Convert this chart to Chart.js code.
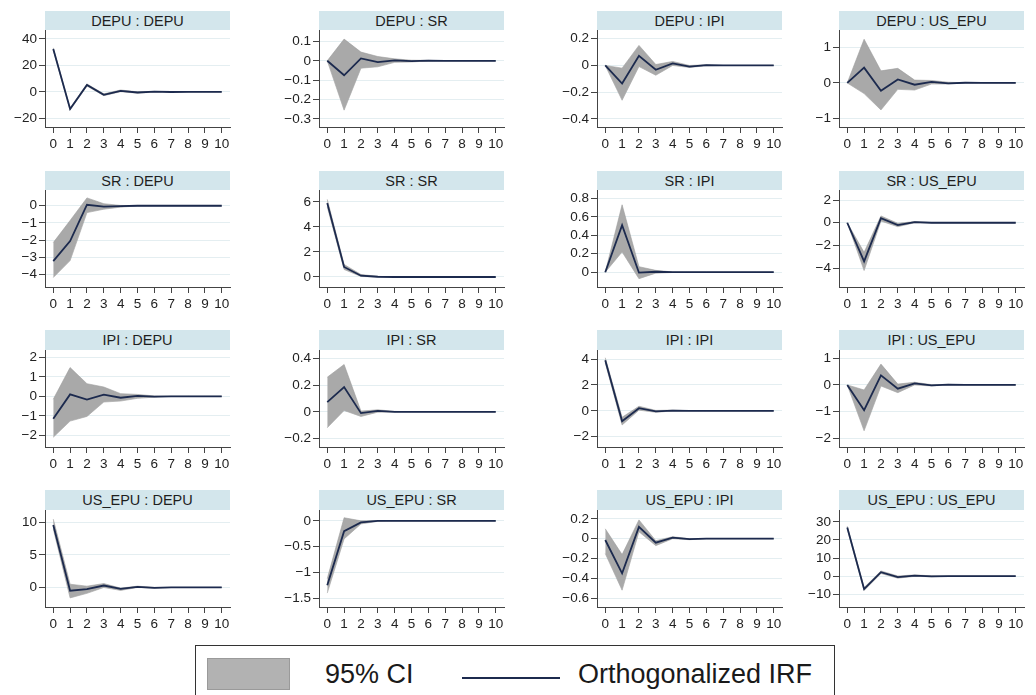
<!DOCTYPE html>
<html>
<head>
<meta charset="utf-8">
<script src="https://cdn.jsdelivr.net/npm/chart.js@4.4.1/dist/chart.umd.min.js"></script>
<style>
  body { margin: 0; background: #fff; width: 1036px; height: 695px; overflow: hidden; position: relative;
         font-family: Arial, "Liberation Sans", sans-serif; }
  .panel { position: absolute; width: 236px; height: 145px; }
  .strip { position: absolute; left: 45px; top: 0; width: 185px; height: 19.5px; background: #d3e6ec;
           color: #1e1e1e; font-size: 14.5px; line-height: 20px; text-align: center; }
  .panel canvas { position: absolute; left: 0; top: 19.5px; }
  .legend { position: absolute; left: 195px; top: 645px; width: 640px; height: 60px; border: 1px solid #333;
            box-sizing: border-box; }
  .legend .sw { position: absolute; left: 11px; top: 12px; width: 83px; height: 32px; background: #b2b2b2;
                border: 1px solid #9a9a9a; box-sizing: border-box; }
  .legend .ln { position: absolute; left: 266px; top: 31px; width: 98px; height: 2px; background: #1c2a4e; }
  .legend span { position: absolute; top: 11px; font-size: 27px; line-height: 34px; color: #1a1a1a; }
</style>
</head>
<body>
<div class="legend">
  <div class="sw"></div><span style="left:129px">95% CI</span>
  <div class="ln"></div><span style="left:382px">Orthogonalized IRF</span>
</div>
<script>
// horizon steps
const steps = [0, 1, 2, 3, 4, 5, 6, 7, 8, 9, 10];

// impulse : response  -> irf, lower / upper 95% CI
const irf_DEPU_DEPU = [32.5, -13, 5.2, -2.2, 0.8, -0.5, 0.1, -0.1, 0, 0, 0];
const lo_DEPU_DEPU  = [31.7, -13.8, 4.4, -2.9, 0.1, -1, -0.2, -0.2, -0.05, -0.02, 0];
const hi_DEPU_DEPU  = [33.3, -12.2, 6, -1.5, 1.4, 0, 0.3, 0.1, 0.05, 0.02, 0];

const irf_DEPU_SR = [0, -0.075, 0.012, -0.007, 0.002, -0.002, 0.001, 0, 0, 0, 0];
const lo_DEPU_SR  = [0, -0.255, -0.038, -0.031, -0.008, -0.006, -0.001, 0, 0, 0, 0];
const hi_DEPU_SR  = [0, 0.112, 0.045, 0.022, 0.01, 0.003, 0.002, 0, 0, 0, 0];

const irf_DEPU_IPI = [0, -0.135, 0.072, -0.032, 0.015, -0.008, 0.002, 0, 0, 0, 0];
const lo_DEPU_IPI  = [0, -0.26, -0.008, -0.073, 0, -0.015, -0.002, 0, 0, 0, 0];
const hi_DEPU_IPI  = [0, -0.02, 0.15, 0.007, 0.03, 0, 0.005, 0, 0, 0, 0];

const irf_DEPU_US_EPU = [0, 0.43, -0.22, 0.1, -0.05, 0.03, -0.01, 0.005, 0, 0, 0];
const lo_DEPU_US_EPU  = [0, -0.3, -0.76, -0.18, -0.2, -0.03, -0.03, 0, 0, 0, 0];
const hi_DEPU_US_EPU  = [0, 1.23, 0.34, 0.41, 0.08, 0.07, 0.02, 0.005, 0, 0, 0];

const irf_SR_DEPU = [-3.23, -2.06, 0.06, -0.05, -0.02, 0, 0, 0, 0, 0, 0];
const lo_SR_DEPU  = [-4.19, -3.2, -0.4, -0.2, -0.08, -0.01, 0, 0, 0, 0, 0];
const hi_SR_DEPU  = [-2.15, -0.86, 0.46, 0.12, 0.02, 0.005, 0, 0, 0, 0, 0];

const irf_SR_SR = [5.9, 0.8, 0.1, 0.02, 0, 0, 0, 0, 0, 0, 0];
const lo_SR_SR  = [5.6, 0.6, 0.04, 0, -0.005, 0, 0, 0, 0, 0, 0];
const hi_SR_SR  = [6.2, 1.0, 0.2, 0.05, 0.01, 0, 0, 0, 0, 0, 0];

const irf_SR_IPI = [0, 0.51, -0.005, 0.005, 0, 0, 0, 0, 0, 0, 0];
const lo_SR_IPI  = [0, 0.22, -0.07, -0.01, -0.003, 0, 0, 0, 0, 0, 0];
const hi_SR_IPI  = [0, 0.73, 0.06, 0.02, 0.003, 0, 0, 0, 0, 0, 0];

const irf_SR_US_EPU = [0, -3.4, 0.4, -0.2, 0.05, 0, 0, 0, 0, 0, 0];
const lo_SR_US_EPU  = [0, -4.2, 0.15, -0.35, 0, -0.01, 0, 0, 0, 0, 0];
const hi_SR_US_EPU  = [0, -2.6, 0.6, -0.05, 0.1, 0.01, 0, 0, 0, 0, 0];

const irf_IPI_DEPU = [-1.15, 0.1, -0.17, 0.09, -0.07, 0.02, -0.01, 0, 0, 0, 0];
const lo_IPI_DEPU  = [-2.1, -1.27, -1.03, -0.29, -0.24, -0.1, -0.04, 0, 0, 0, 0];
const hi_IPI_DEPU  = [-0.15, 1.48, 0.65, 0.48, 0.14, 0.1, 0.02, 0, 0, 0, 0];

const irf_IPI_SR = [0.073, 0.186, -0.01, 0.007, 0, 0, 0, 0, 0, 0, 0];
const lo_IPI_SR  = [-0.12, 0.01, -0.035, -0.003, -0.002, 0, 0, 0, 0, 0, 0];
const hi_IPI_SR  = [0.26, 0.356, 0.005, 0.015, 0.003, 0, 0, 0, 0, 0, 0];

const irf_IPI_IPI = [3.9, -0.8, 0.2, -0.05, 0.02, 0, 0, 0, 0, 0, 0];
const lo_IPI_IPI  = [3.7, -1.1, 0.05, -0.12, -0.01, -0.01, 0, 0, 0, 0, 0];
const hi_IPI_IPI  = [4.1, -0.5, 0.35, 0.03, 0.05, 0.01, 0, 0, 0, 0, 0];

const irf_IPI_US_EPU = [0, -0.95, 0.36, -0.14, 0.06, -0.02, 0.01, 0, 0, 0, 0];
const lo_IPI_US_EPU  = [0, -1.72, -0.04, -0.29, 0, -0.04, 0, 0, 0, 0, 0];
const hi_IPI_US_EPU  = [0, -0.19, 0.78, 0.03, 0.1, 0.01, 0.02, 0, 0, 0, 0];

const irf_US_EPU_DEPU = [9.6, -0.5, -0.26, 0.3, -0.2, 0.1, -0.05, 0, 0, 0, 0];
const lo_US_EPU_DEPU  = [9.0, -1.6, -0.9, 0, -0.45, 0, -0.1, 0, 0, 0, 0];
const hi_US_EPU_DEPU  = [10.5, 0.5, 0.2, 0.6, -0.1, 0.2, 0.02, 0, 0, 0, 0];

const irf_US_EPU_SR = [-1.25, -0.2, -0.03, 0, 0, 0, 0, 0, 0, 0, 0];
const lo_US_EPU_SR  = [-1.4, -0.35, -0.06, -0.01, 0, 0, 0, 0, 0, 0, 0];
const hi_US_EPU_SR  = [-1.12, 0.06, 0, 0.005, 0, 0, 0, 0, 0, 0, 0];

const irf_US_EPU_IPI = [-0.013, -0.35, 0.12, -0.04, 0.01, -0.005, 0, 0, 0, 0, 0];
const lo_US_EPU_IPI  = [-0.15, -0.52, 0.07, -0.07, 0, -0.01, 0, 0, 0, 0, 0];
const hi_US_EPU_IPI  = [0.1, -0.16, 0.19, -0.02, 0.02, 0, 0, 0, 0, 0, 0];

const irf_US_EPU_US_EPU = [26.8, -7.1, 2.2, -0.5, 0.3, -0.1, 0, 0, 0, 0, 0];
const lo_US_EPU_US_EPU  = [26.0, -7.9, 1.5, -1.1, -0.1, -0.3, -0.05, 0, 0, 0, 0];
const hi_US_EPU_US_EPU  = [27.6, -6.3, 2.9, 0.1, 0.7, 0.2, 0.05, 0, 0, 0, 0];

// y tick labels per panel
const yt_DEPU_DEPU = [-20, 0, 20, 40];
const yt_DEPU_SR = [-0.3, -0.2, -0.1, 0, 0.1];
const yt_DEPU_IPI = [-0.4, -0.2, 0, 0.2];
const yt_DEPU_US_EPU = [-1, 0, 1];
const yt_SR_DEPU = [-4, -3, -2, -1, 0];
const yt_SR_SR = [0, 2, 4, 6];
const yt_SR_IPI = [0, 0.2, 0.4, 0.6, 0.8];
const yt_SR_US_EPU = [-4, -2, 0, 2];
const yt_IPI_DEPU = [-2, -1, 0, 1, 2];
const yt_IPI_SR = [-0.2, 0, 0.2, 0.4];
const yt_IPI_IPI = [-2, 0, 2, 4];
const yt_IPI_US_EPU = [-2, -1, 0, 1];
const yt_US_EPU_DEPU = [0, 5, 10];
const yt_US_EPU_SR = [-1.5, -1, -0.5, 0];
const yt_US_EPU_IPI = [-0.6, -0.4, -0.2, 0, 0.2];
const yt_US_EPU_US_EPU = [-10, 0, 10, 20, 30];

const panels = [
  { title: "DEPU : DEPU", irf: irf_DEPU_DEPU, lo: lo_DEPU_DEPU, hi: hi_DEPU_DEPU, yt: yt_DEPU_DEPU, min: -26.6, max: 46.8 },
  { title: "DEPU : SR", irf: irf_DEPU_SR, lo: lo_DEPU_SR, hi: hi_DEPU_SR, yt: yt_DEPU_SR, min: -0.342, max: 0.159 },
  { title: "DEPU : IPI", irf: irf_DEPU_IPI, lo: lo_DEPU_IPI, hi: hi_DEPU_IPI, yt: yt_DEPU_IPI, min: -0.46, max: 0.265 },
  { title: "DEPU : US_EPU", irf: irf_DEPU_US_EPU, lo: lo_DEPU_US_EPU, hi: hi_DEPU_US_EPU, yt: yt_DEPU_US_EPU, min: -1.24, max: 1.49 },
  { title: "SR : DEPU", irf: irf_SR_DEPU, lo: lo_SR_DEPU, hi: hi_SR_DEPU, yt: yt_SR_DEPU, min: -4.74, max: 0.92 },
  { title: "SR : SR", irf: irf_SR_SR, lo: lo_SR_SR, hi: hi_SR_SR, yt: yt_SR_SR, min: -0.8, max: 6.95 },
  { title: "SR : IPI", irf: irf_SR_IPI, lo: lo_SR_IPI, hi: hi_SR_IPI, yt: yt_SR_IPI, min: -0.16, max: 0.89 },
  { title: "SR : US_EPU", irf: irf_SR_US_EPU, lo: lo_SR_US_EPU, hi: hi_SR_US_EPU, yt: yt_SR_US_EPU, min: -5.65, max: 2.88 },
  { title: "IPI : DEPU", irf: irf_IPI_DEPU, lo: lo_IPI_DEPU, hi: hi_IPI_DEPU, yt: yt_IPI_DEPU, min: -2.6, max: 2.38 },
  { title: "IPI : SR", irf: irf_IPI_SR, lo: lo_IPI_SR, hi: hi_IPI_SR, yt: yt_IPI_SR, min: -0.265, max: 0.465 },
  { title: "IPI : IPI", irf: irf_IPI_IPI, lo: lo_IPI_IPI, hi: hi_IPI_IPI, yt: yt_IPI_IPI, min: -2.8, max: 4.7 },
  { title: "IPI : US_EPU", irf: irf_IPI_US_EPU, lo: lo_IPI_US_EPU, hi: hi_IPI_US_EPU, yt: yt_IPI_US_EPU, min: -2.33, max: 1.31 },
  { title: "US_EPU : DEPU", irf: irf_US_EPU_DEPU, lo: lo_US_EPU_DEPU, hi: hi_US_EPU_DEPU, yt: yt_US_EPU_DEPU, min: -3.0, max: 11.9 },
  { title: "US_EPU : SR", irf: irf_US_EPU_SR, lo: lo_US_EPU_SR, hi: hi_US_EPU_SR, yt: yt_US_EPU_SR, min: -1.67, max: 0.21 },
  { title: "US_EPU : IPI", irf: irf_US_EPU_IPI, lo: lo_US_EPU_IPI, hi: hi_US_EPU_IPI, yt: yt_US_EPU_IPI, min: -0.69, max: 0.29 },
  { title: "US_EPU : US_EPU", irf: irf_US_EPU_US_EPU, lo: lo_US_EPU_US_EPU, hi: hi_US_EPU_US_EPU, yt: yt_US_EPU_US_EPU, min: -17, max: 36.5 }
];

const colLeft = [0, 274, 552, 794];
const rowTop = [10.5, 170.5, 330, 490];

function fmt(v) {
  return (v < 0 ? "\u2212" : "") + String(Math.abs(v));
}

function pts(vals) {
  return steps.map((s, i) => ({ x: s, y: vals[i] }));
}

panels.forEach((p, k) => {
  const div = document.createElement("div");
  div.className = "panel";
  div.style.left = colLeft[k % 4] + "px";
  div.style.top = rowTop[Math.floor(k / 4)] + "px";

  const strip = document.createElement("div");
  strip.className = "strip";
  strip.textContent = p.title;
  div.appendChild(strip);

  const canvas = document.createElement("canvas");
  canvas.width = 236;
  canvas.height = 126;
  div.appendChild(canvas);
  document.body.appendChild(div);

  new Chart(canvas.getContext("2d"), {
    type: "line",
    data: {
      datasets: [
        { data: pts(p.irf), borderColor: "#1c2a4e", borderWidth: 1.8, pointRadius: 0, fill: false, order: 0 },
        { data: pts(p.hi), borderColor: "#9c9c9c", borderWidth: 0.6, backgroundColor: "#a9a9a9",
          pointRadius: 0, fill: 2, order: 1 },
        { data: pts(p.lo), borderColor: "#9c9c9c", borderWidth: 0.6, pointRadius: 0, fill: false, order: 1 }
      ]
    },
    options: {
      responsive: false,
      animation: false,
      devicePixelRatio: 1,
      layout: { padding: { left: 0, right: 6, top: 0, bottom: 0 } },
      plugins: { legend: { display: false }, tooltip: { enabled: false } },
      scales: {
        x: {
          type: "linear",
          min: -0.49,
          max: 10.49,
          afterBuildTicks: s => { s.ticks = steps.map(v => ({ value: v })); },
          afterFit: s => { s.height = 29; s.paddingLeft = 0; s.paddingRight = 0; },
          ticks: { color: "#222", font: { family: "Arial, 'Liberation Sans'", size: 13.5 }, padding: 3,
                   maxRotation: 0, autoSkip: false },
          grid: { drawOnChartArea: false, drawTicks: true, tickColor: "#444", tickLength: 6 },
          border: { color: "#444", width: 1 }
        },
        y: {
          min: p.min,
          max: p.max,
          afterBuildTicks: s => { s.ticks = p.yt.map(v => ({ value: v })); },
          afterFit: s => { s.width = 45; s.paddingTop = 0; s.paddingBottom = 0; },
          ticks: { color: "#222", font: { family: "Arial, 'Liberation Sans'", size: 13.5 }, padding: 2,
                   callback: v => fmt(v) },
          grid: { color: "#e4eef1", lineWidth: 1, drawTicks: true, tickColor: "#444", tickLength: 6 },
          border: { color: "#444", width: 1 }
        }
      }
    }
  });
});
</script>
</body>
</html>
